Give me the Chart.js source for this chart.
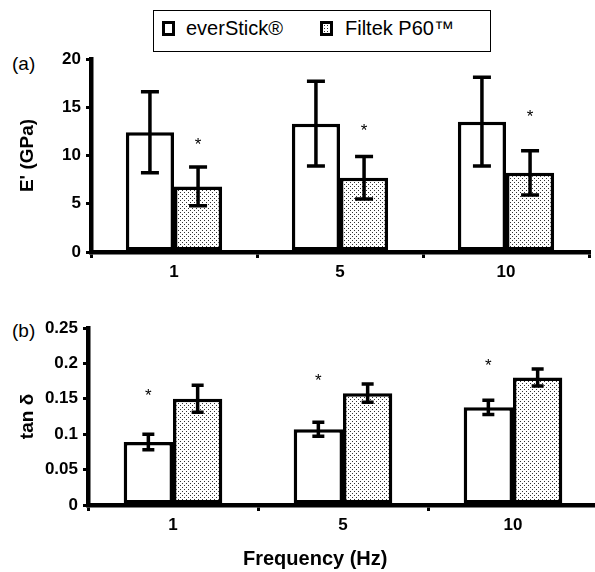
<!DOCTYPE html>
<html>
<head>
<meta charset="utf-8">
<script src="https://cdn.jsdelivr.net/npm/chart.js@4.4.1/dist/chart.umd.min.js"></script>
<style>
  body { margin:0; background:#fff; width:595px; height:572px; overflow:hidden; position:relative;
         font-family:"Liberation Sans", Arial, sans-serif; color:#000; }
  canvas { position:absolute; left:0; }
  #topChart { top:0; }
  #bottomChart { top:285px; }
  .panel { position:absolute; left:12px; font-size:19px; line-height:19px; }
  #legend { position:absolute; left:153px; top:10px; width:338px; height:42px; box-sizing:border-box;
            border:1.5px solid #000; }
  #legend .mk { position:absolute; top:10px; width:13px; height:15px; box-sizing:border-box; border:3px solid #000; background:#fff; }
  #legend .mk.dots { background:radial-gradient(circle, #333 40%, transparent 45%) 0 0/3px 3px, #fff; }
  #legend .txt { position:absolute; top:7px; font-size:20px; line-height:20px; white-space:nowrap; }
  #xTitle { position:absolute; left:243px; top:546px; font-size:20px; line-height:24px; font-weight:bold; white-space:nowrap; }
</style>
</head>
<body>
<div id="legend">
  <span class="mk" style="left:8px"></span><span class="txt" style="left:32px">everStick®</span>
  <span class="mk dots" style="left:166px"></span><span class="txt" style="left:191px">Filtek P60™</span>
</div>
<div class="panel" style="top:54px">(a)</div>
<div class="panel" style="top:321px">(b)</div>
<canvas id="topChart" width="595" height="285"></canvas>
<canvas id="bottomChart" width="600" height="287"></canvas>
<div id="xTitle">Frequency (Hz)</div>

<script>
// frequencies (Hz)
const frequencies = ['1', '5', '10'];

// storage modulus E' (GPa), mean and SD
const eEverStick = [12.4, 13.3, 13.5];
const eEverStickSD = [4.2, 4.4, 4.6];
const eFiltek = [6.8, 7.7, 8.2];
const eFiltekSD = [2.0, 2.2, 2.3];
const eStarFiltek = [11.6, 13.0, 14.5];   // where the * marks sit
const eTicks = [0, 5, 10, 15, 20];

// tan delta, mean and SD
const tanEverStick = [0.089, 0.107, 0.138];
const tanEverStickSD = [0.011, 0.010, 0.010];
const tanFiltek = [0.150, 0.158, 0.180];
const tanFiltekSD = [0.019, 0.013, 0.012];
const tanStarEverStick = [0.161, 0.182, 0.203];
const tanTicks = [0, 0.05, 0.1, 0.15, 0.2, 0.25];

const FONT = '"Liberation Sans", Arial, sans-serif';

function dotPattern(ctx) {
  const c = document.createElement('canvas');
  c.width = 4; c.height = 4;
  const g = c.getContext('2d');
  g.fillStyle = '#fff'; g.fillRect(0, 0, 4, 4);
  g.fillStyle = '#333';
  g.fillRect(0, 0, 1, 1);
  g.fillRect(2, 2, 1, 1);
  return ctx.createPattern(c, 'repeat');
}

// draws SD error bars and significance stars
const errorBars = {
  id: 'errorBars',
  afterDatasetsDraw(chart, args, opts) {
    const ctx = chart.ctx;
    const y = chart.scales.y;
    chart.data.datasets.forEach((ds, i) => {
      const meta = chart.getDatasetMeta(i);
      meta.data.forEach((bar, j) => {
        const top = y.getPixelForValue(ds.data[j] + ds.errors[j]);
        const bot = y.getPixelForValue(ds.data[j] - ds.errors[j]);
        ctx.save();
        ctx.strokeStyle = '#000';
        ctx.lineWidth = opts.width;
        ctx.beginPath();
        ctx.moveTo(bar.x, top); ctx.lineTo(bar.x, bot);
        ctx.moveTo(bar.x - opts.cap, top); ctx.lineTo(bar.x + opts.cap, top);
        ctx.moveTo(bar.x - opts.cap, bot); ctx.lineTo(bar.x + opts.cap, bot);
        ctx.stroke();
        if (ds.stars) {
          ctx.fillStyle = '#000';
          ctx.font = '17px ' + FONT;
          ctx.textAlign = 'center';
          ctx.textBaseline = 'alphabetic';
          ctx.fillText('*', bar.x, y.getPixelForValue(ds.stars[j]) + 0.57 * 17);
        }
        ctx.restore();
      });
    });
  }
};

function makeChart(id, opt) {
  const ctx = document.getElementById(id).getContext('2d');
  return new Chart(ctx, {
    type: 'bar',
    data: {
      labels: frequencies,
      datasets: [{
        label: 'everStick®',
        data: opt.a, errors: opt.aSD, stars: opt.aStars,
        backgroundColor: '#fff', borderColor: '#000', borderWidth: 3.5, borderSkipped: false,
        categoryPercentage: 0.58, barPercentage: 1
      }, {
        label: 'Filtek P60™',
        data: opt.b, errors: opt.bSD, stars: opt.bStars,
        backgroundColor: dotPattern(ctx), borderColor: '#000', borderWidth: 3.5, borderSkipped: false,
        categoryPercentage: 0.58, barPercentage: 1
      }]
    },
    options: {
      responsive: false,
      animation: false,
      layout: { padding: opt.padding },
      plugins: {
        legend: { display: false },
        tooltip: { enabled: false },
        errorBars: { width: 3.5, cap: opt.cap }
      },
      scales: {
        x: {
          afterFit: s => { s.height = opt.xHeight; },
          border: { color: '#000', width: 4.5 },
          grid: { drawOnChartArea: false, color: '#000', lineWidth: 3, tickLength: 6 },
          ticks: { color: '#000', font: { family: FONT, size: 17, weight: 'bold' }, padding: 4 }
        },
        y: {
          min: 0, max: opt.max,
          afterBuildTicks: s => { s.ticks = opt.ticks.map(v => ({ value: v })); },
          afterFit: s => { s.width = opt.yWidth; },
          border: { color: '#000', width: 4.5 },
          grid: { drawOnChartArea: false, color: '#000', lineWidth: 3, tickLength: 5 },
          ticks: { color: '#000', font: { family: FONT, size: 17, weight: 'bold' }, padding: 5,
                   callback: v => String(parseFloat(Number(v).toFixed(3))) },
          title: { display: true, text: opt.yTitle, color: '#000',
                   font: { family: FONT, size: 19, weight: 'bold' }, padding: { top: 16, bottom: 0 } }
        }
      }
    },
    plugins: [errorBars]
  });
}

makeChart('topChart', {
  a: eEverStick, aSD: eEverStickSD, aStars: null,
  b: eFiltek, bSD: eFiltekSD, bStars: eStarFiltek,
  max: 20, ticks: eTicks, yTitle: "E' (GPa)",
  padding: { top: 59, right: 6, left: 0, bottom: 0 },
  xHeight: 33, yWidth: 91, cap: 9
});

makeChart('bottomChart', {
  a: tanEverStick, aSD: tanEverStickSD, aStars: tanStarEverStick,
  b: tanFiltek, bSD: tanFiltekSD, bStars: null,
  max: 0.25, ticks: tanTicks, yTitle: 'tan δ',
  padding: { top: 43, right: 2, left: 0, bottom: 0 },
  xHeight: 67, yWidth: 88, cap: 6
});
</script>
</body>
</html>
